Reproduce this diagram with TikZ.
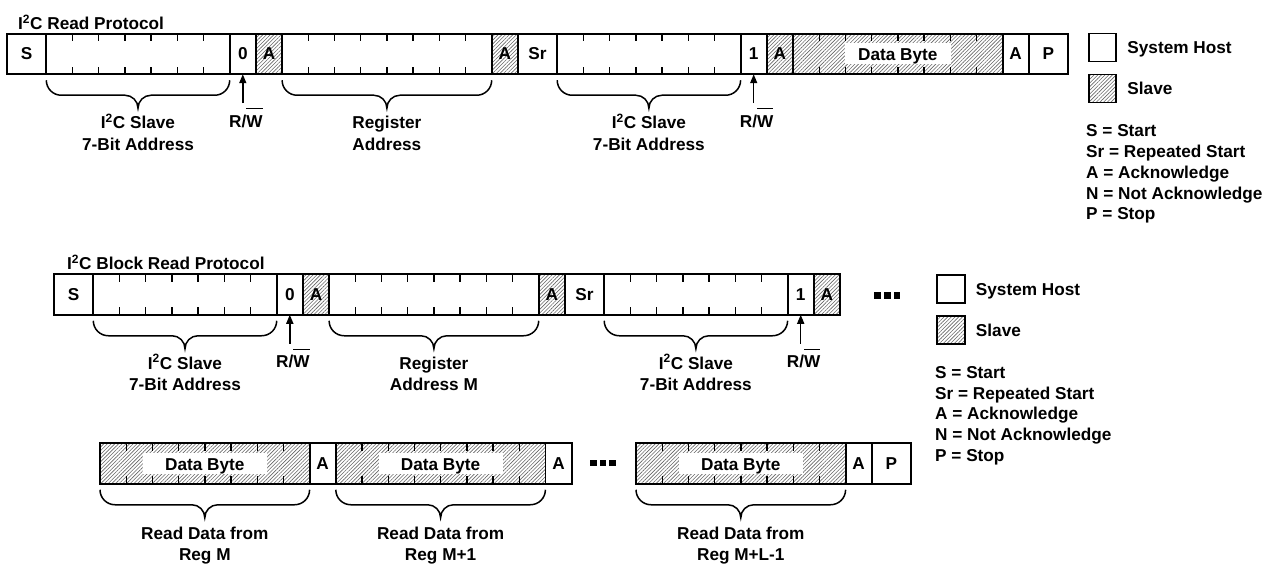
\documentclass[tikz,border=0pt]{standalone}
\usepackage{fontspec}
\setmainfont{Liberation Sans}
\usetikzlibrary{arrows.meta,positioning,patterns.meta}

\newcommand{\lblfont}{\fontsize{17.2}{21.5}\selectfont\bfseries}
\newcommand{\keyfont}{\fontsize{17.2}{20.8}\selectfont\bfseries}
\newcommand{\rwbar}{R/\sbox0{W}\rlap{\rule[17.8pt]{\wd0}{1.3pt}}W}
% curly brace under a field, tip named #2
\newcommand{\bracebelow}[2]{%
  \draw[brc] ([yshift=-6pt]#1.south west) arc[start angle=180,end angle=270,radius=15pt]
    -- ([xshift=-13pt,yshift=-21pt]#1.south) arc[start angle=90,end angle=0,radius=13pt]
    arc[start angle=180,end angle=90,radius=13pt]
    -- ([xshift=-15pt,yshift=-21pt]#1.south east) arc[start angle=270,end angle=360,radius=15pt];
  \coordinate (#2) at ([yshift=-34pt]#1.south);}

\tikzset{
  field/.style={draw,line width=1.8pt,minimum height=40.5pt,inner sep=0pt,outer sep=0pt,font=\lblfont,anchor=west},
  host/.style={field,fill=white},
  slave/.style={field,pattern={Lines[angle=45,distance=2.6pt,line width=0.6pt]},pattern color=black!60},
  bits/.style={minimum width=#1*26.2pt},
  ticks/.style={path picture={
    \foreach \k in {1,...,#1}
      \draw[line width=1.4pt] ([xshift=\k*26.2pt]path picture bounding box.north west) -- ++(0,-7.5pt)
        ([xshift=\k*26.2pt]path picture bounding box.south west) -- ++(0,7.5pt);}},
  databyte/.style={fill=white,font=\lblfont,inner xsep=0pt,inner ysep=1pt,text height=16pt,text depth=3pt},
  brc/.style={line width=1.5pt},
  brlbl/.style={font=\lblfont,align=center,anchor=base,inner sep=0pt},
  rwarrow/.style={line width=1.5pt,-{Triangle[length=9pt,width=7pt]}},
  rwlbl/.style={font=\lblfont,anchor=base,inner sep=0pt},
  title/.style={font=\lblfont,anchor=base west,inner sep=0pt},
  keybox/.style={minimum width=27.5pt,minimum height=28pt,anchor=center},
  keytxt/.style={font=\lblfont,inner sep=0pt,text height=12.3pt,text depth=0pt},
  keylist/.style={font=\keyfont,align=left,anchor=north west,inner sep=0pt},
  sqdot/.style={fill,minimum size=6.5pt,inner sep=0pt}
}

\begin{document}
\begin{tikzpicture}[x=1pt,y=1pt]
  \useasboundingbox (0,0) rectangle (1267,566);

  % Read protocol
  \node[title] (tRead) at (18,536.7) {I\textsuperscript{2}C Read Protocol};
  \node[host,bits=1.5] (rS) at (7,512) {S};
  \node[host,bits=7,ticks=6,right=0pt of rS] (rAddr) {};
  \node[host,bits=1,right=0pt of rAddr] (rRW) {0};
  \node[slave,bits=1,right=0pt of rRW] (rAck1) {A};
  \node[host,bits=8,ticks=7,right=0pt of rAck1] (rReg) {};
  \node[slave,bits=1,right=0pt of rReg] (rAck2) {A};
  \node[host,bits=1.5,right=0pt of rAck2] (rSr) {Sr};
  \node[host,bits=7,ticks=6,right=0pt of rSr] (rAddr2) {};
  \node[host,bits=1,right=0pt of rAddr2] (rRW2) {1};
  \node[slave,bits=1,right=0pt of rRW2] (rAck3) {A};
  \node[slave,bits=8,ticks=7,right=0pt of rAck3] (rData) {};
  \node[host,bits=1,right=0pt of rData] (rAck4) {A};
  \node[host,bits=1.5,right=0pt of rAck4] (rP) {P};
  \node[databyte,minimum width=106pt] (rDataLbl) at (rData) {Data Byte};
  % braces and labels
  \bracebelow{rAddr}{rTip1}
  \bracebelow{rReg}{rTip2}
  \bracebelow{rAddr2}{rTip3}
  \node[brlbl] (rLbl1) at ([yshift=-42pt]rTip1) {I\textsuperscript{2}C Slave\\7-Bit Address};
  \node[brlbl] (rLbl2) at ([yshift=-42pt]rTip2) {Register\\Address};
  \node[brlbl] (rLbl3) at ([yshift=-42pt]rTip3) {I\textsuperscript{2}C Slave\\7-Bit Address};
  % R/W arrows
  \coordinate (rTail1) at ([yshift=-29pt]rRW.south);
  \coordinate (rTail2) at ([yshift=-29pt]rRW2.south);
  \draw[rwarrow] (rTail1) -- (rRW.south);
  \draw[rwarrow] (rTail2) -- (rRW2.south);
  \node[rwlbl] (rRWl1) at ([xshift=3pt,yshift=-24pt]rTail1) {\rwbar};
  \node[rwlbl] (rRWl2) at ([xshift=3pt,yshift=-24pt]rTail2) {\rwbar};
  % legend
  \node[host,keybox] (rKeyHost) at (1102.5,518.5) {};
  \node[slave,keybox,below=13pt of rKeyHost] (rKeySlave) {};
  \node[keytxt,right=11pt of rKeyHost] (rKeyHostT) {System Host};
  \node[keytxt,right=11pt of rKeySlave] (rKeySlaveT) {Slave};
  \node[keylist] (rKeyList) at (1086,441.5) {S = Start\\Sr = Repeated Start\\A = Acknowledge\\N = Not Acknowledge\\P = Stop};

  % Block read protocol
  \node[title] (tBlock) at (67,296) {I\textsuperscript{2}C Block Read Protocol};
  \node[host,bits=1.5] (bS) at (54,271.5) {S};
  \node[host,bits=7,ticks=6,right=0pt of bS] (bAddr) {};
  \node[host,bits=1,right=0pt of bAddr] (bRW) {0};
  \node[slave,bits=1,right=0pt of bRW] (bAck1) {A};
  \node[host,bits=8,ticks=7,right=0pt of bAck1] (bReg) {};
  \node[slave,bits=1,right=0pt of bReg] (bAck2) {A};
  \node[host,bits=1.5,right=0pt of bAck2] (bSr) {Sr};
  \node[host,bits=7,ticks=6,right=0pt of bSr] (bAddr2) {};
  \node[host,bits=1,right=0pt of bAddr2] (bRW2) {1};
  \node[slave,bits=1,right=0pt of bRW2] (bAck3) {A};
  \foreach \x [count=\i] in {877.7,887.3,896.8}
    \node[sqdot] (bDot\i) at (\x,270.5) {};
  \bracebelow{bAddr}{bTip1}
  \bracebelow{bReg}{bTip2}
  \bracebelow{bAddr2}{bTip3}
  \node[brlbl] (bLbl1) at ([yshift=-42pt]bTip1) {I\textsuperscript{2}C Slave\\7-Bit Address};
  \node[brlbl] (bLbl2) at ([yshift=-42pt]bTip2) {Register\\Address M};
  \node[brlbl] (bLbl3) at ([yshift=-42pt]bTip3) {I\textsuperscript{2}C Slave\\7-Bit Address};
  \coordinate (bTail1) at ([yshift=-29pt]bRW.south);
  \coordinate (bTail2) at ([yshift=-29pt]bRW2.south);
  \draw[rwarrow] (bTail1) -- (bRW.south);
  \draw[rwarrow] (bTail2) -- (bRW2.south);
  \node[rwlbl] (bRWl1) at ([xshift=3pt,yshift=-24pt]bTail1) {\rwbar};
  \node[rwlbl] (bRWl2) at ([xshift=3pt,yshift=-24pt]bTail2) {\rwbar};
  % legend
  \node[host,keybox] (bKeyHost) at (951,277) {};
  \node[slave,keybox,below=13pt of bKeyHost] (bKeySlave) {};
  \node[keytxt,right=11pt of bKeyHost] (bKeyHostT) {System Host};
  \node[keytxt,right=11pt of bKeySlave] (bKeySlaveT) {Slave};
  \node[keylist] (bKeyList) at (935,200) {S = Start\\Sr = Repeated Start\\A = Acknowledge\\N = Not Acknowledge\\P = Stop};

  % data bytes
  \node[slave,bits=8,ticks=7] (dData1) at (100,102.5) {};
  \node[host,bits=1,right=0pt of dData1] (dAck1) {A};
  \node[slave,bits=8,ticks=7,right=0pt of dAck1] (dData2) {};
  \node[host,bits=1,right=0pt of dData2] (dAck2) {A};
  \foreach \x [count=\i] in {593.7,603.1,612.6}
    \node[sqdot] (dDot\i) at (\x,103) {};
  \node[slave,bits=8,ticks=7] (dData3) at (636,102.5) {};
  \node[host,bits=1,right=0pt of dData3] (dAck3) {A};
  \node[host,bits=1.5,right=0pt of dAck3] (dP) {P};
  \foreach \n in {1,2,3}
    \node[databyte,minimum width=124pt] (dLbl\n) at (dData\n) {Data Byte};
  \bracebelow{dData1}{dTip1}
  \bracebelow{dData2}{dTip2}
  \bracebelow{dData3}{dTip3}
  \node[brlbl] (dRead1) at ([yshift=-43pt]dTip1) {Read Data from\\Reg M};
  \node[brlbl] (dRead2) at ([yshift=-43pt]dTip2) {Read Data from\\Reg M+1};
  \node[brlbl] (dRead3) at ([yshift=-43pt]dTip3) {Read Data from\\Reg M+L-1};
\end{tikzpicture}
\end{document}
